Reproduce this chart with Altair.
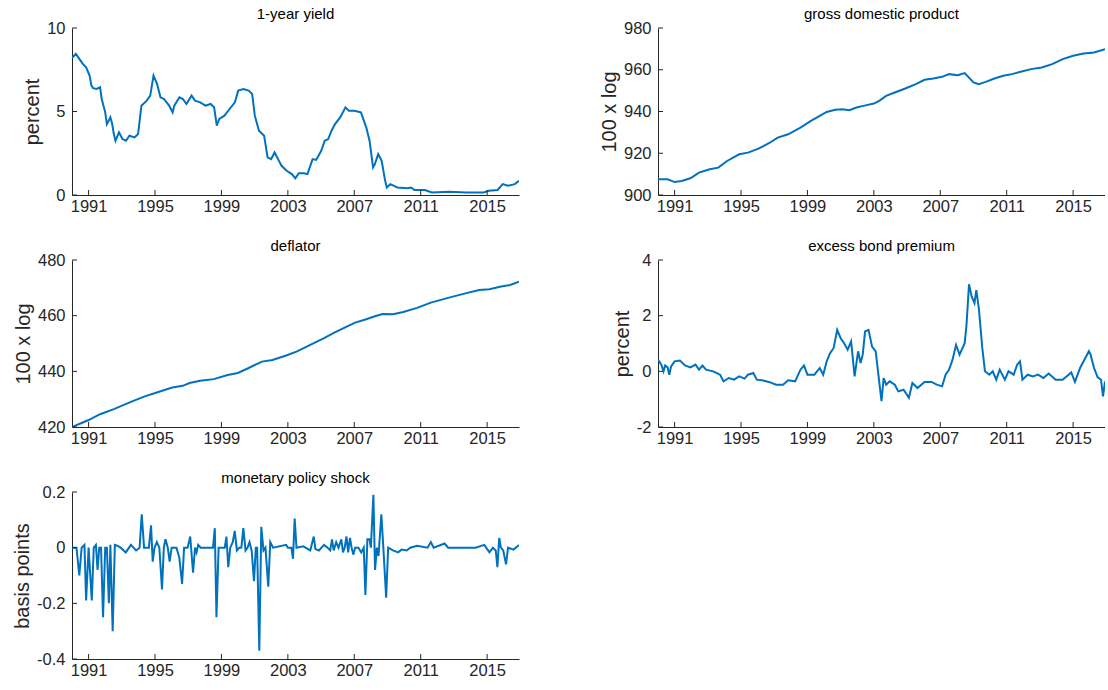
import altair as alt
import pandas as pd

# ---------------- data ----------------
XTICKS = [1991, 1995, 1999, 2003, 2007, 2011, 2015]

YIELD_T = [1990.0, 1990.23, 1990.44, 1990.65, 1990.85, 1991.06, 1991.17, 1991.27, 1991.48, 1991.69,
           1991.79, 1992.0, 1992.1, 1992.21, 1992.31, 1992.42, 1992.52, 1992.62, 1992.83, 1993.04,
           1993.25, 1993.46, 1993.77, 1993.98, 1994.18, 1994.5, 1994.71, 1994.91, 1995.12, 1995.33,
           1995.54, 1995.85, 1996.06, 1996.16, 1996.47, 1996.68, 1996.89, 1997.2, 1997.41, 1997.72,
           1998.04, 1998.35, 1998.56, 1998.72, 1998.87, 1999.18, 1999.49, 1999.81, 2000.01, 2000.33,
           2000.64, 2000.85, 2001.01, 2001.26, 2001.57, 2001.78, 2001.99, 2002.2, 2002.41, 2002.62,
           2002.93, 2003.24, 2003.45, 2003.66, 2003.97, 2004.18, 2004.49, 2004.7, 2005.01, 2005.22,
           2005.43, 2005.63, 2005.84, 2006.15, 2006.47, 2006.67, 2006.99, 2007.4, 2007.72, 2007.92,
           2008.13, 2008.24, 2008.44, 2008.65, 2008.86, 2008.96, 2009.17, 2009.59, 2010.21, 2010.42,
           2010.63, 2011.25, 2011.67, 2012.71, 2013.75, 2014.79, 2015.1, 2015.63, 2015.94, 2016.25,
           2016.67, 2016.92]
YIELD_V = [8.2, 8.45, 8.15, 7.85, 7.65, 7.15, 6.55, 6.4, 6.35, 6.45,
           5.75, 4.95, 4.25, 4.45, 4.65, 4.25, 3.65, 3.25, 3.75, 3.35,
           3.25, 3.55, 3.45, 3.65, 5.35, 5.65, 5.95, 7.15, 6.65, 5.85,
           5.75, 5.35, 4.95, 5.35, 5.85, 5.75, 5.45, 5.95, 5.65, 5.55,
           5.35, 5.45, 5.25, 4.15, 4.55, 4.75, 5.15, 5.55, 6.25, 6.35,
           6.25, 6.05, 4.75, 3.85, 3.55, 2.25, 2.15, 2.55, 2.15, 1.75,
           1.45, 1.25, 1.0, 1.3, 1.3, 1.25, 2.15, 2.1, 2.65, 3.25,
           3.35, 3.85, 4.25, 4.65, 5.25, 5.05, 5.05, 4.95, 4.05, 3.25,
           1.65, 1.85, 2.45, 2.05, 0.85, 0.45, 0.65, 0.45, 0.4, 0.45,
           0.3, 0.3, 0.15, 0.2, 0.15, 0.15, 0.25, 0.3, 0.65, 0.55,
           0.65, 0.85]

GDP_T = [1990.0, 1990.58, 1991.0, 1991.42, 1991.95, 1992.47, 1993.11, 1993.63, 1994.16, 1994.89,
         1995.42, 1996.05, 1996.68, 1997.21, 1997.84, 1998.58, 1999.21, 1999.74, 2000.16, 2000.68,
         2001.11, 2001.53, 2001.95, 2002.37, 2003.0, 2003.32, 2003.74, 2004.26, 2004.89, 2005.53,
         2006.05, 2006.58, 2007.11, 2007.53, 2008.05, 2008.47, 2009.0, 2009.32, 2009.74, 2010.26,
         2010.79, 2011.32, 2011.84, 2012.47, 2013.11, 2013.74, 2014.37, 2015.0, 2015.63, 2016.26,
         2016.92]
GDP_V = [907.5, 907.5, 906.2, 906.7, 908.0, 910.7, 912.3, 913.1, 916.3, 919.5,
         920.3, 922.2, 924.8, 927.5, 929.1, 932.3, 935.5, 937.9, 939.8, 940.8,
         941.1, 940.6, 941.9, 942.7, 943.8, 945.1, 947.5, 949.1, 951.0, 953.1,
         955.2, 955.8, 956.6, 957.9, 957.4, 958.4, 953.9, 953.1, 954.2, 955.8,
         957.1, 957.9, 959.0, 960.3, 961.1, 962.7, 965.1, 966.7, 967.8, 968.3,
         969.9]

DEF_T = [1990.0, 1990.65, 1991.0, 1991.69, 1992.52, 1993.55, 1994.38, 1995.01, 1996.04, 1996.67,
         1997.08, 1997.71, 1998.54, 1999.37, 1999.99, 2000.61, 2001.44, 2002.07, 2002.9, 2003.52,
         2004.35, 2005.18, 2005.8, 2006.42, 2007.05, 2007.67, 2008.29, 2008.71, 2009.33, 2009.95,
         2010.78, 2011.61, 2012.65, 2013.69, 2014.52, 2015.14, 2015.77, 2016.39, 2016.92]
DEF_V = [420.0, 421.6, 422.5, 424.6, 426.4, 429.0, 431.0, 432.2, 434.2, 434.8,
         435.8, 436.6, 437.2, 438.7, 439.4, 441.1, 443.5, 444.1, 445.7, 447.1,
         449.5, 451.9, 453.9, 455.7, 457.5, 458.6, 459.9, 460.6, 460.5, 461.3,
         462.8, 464.7, 466.4, 468.0, 469.2, 469.5, 470.4, 471.0, 472.2]

EBP_T = [1990.0, 1990.2, 1990.33, 1990.43, 1990.58, 1990.68, 1990.79, 1991.0, 1991.32, 1991.63,
         1991.95, 1992.26, 1992.47, 1992.68, 1992.89, 1993.32, 1993.74, 1993.95, 1994.26, 1994.58,
         1994.89, 1995.21, 1995.42, 1995.74, 1995.95, 1996.26, 1996.68, 1997.11, 1997.53, 1997.84,
         1998.26, 1998.58, 1998.79, 1999.0, 1999.42, 1999.74, 1999.95, 2000.16, 2000.37, 2000.58,
         2000.79, 2001.0, 2001.21, 2001.42, 2001.63, 2001.84, 2002.05, 2002.2, 2002.33, 2002.47,
         2002.68, 2002.89, 2003.11, 2003.32, 2003.46, 2003.59, 2003.74, 2003.95, 2004.26, 2004.47,
         2004.79, 2005.11, 2005.32, 2005.63, 2006.05, 2006.47, 2006.79, 2007.11, 2007.32, 2007.53,
         2007.74, 2007.95, 2008.16, 2008.47, 2008.58, 2008.73, 2008.89, 2009.06, 2009.17, 2009.32,
         2009.53, 2009.69, 2009.95, 2010.16, 2010.37, 2010.58, 2010.89, 2011.11, 2011.42, 2011.63,
         2011.8, 2011.95, 2012.26, 2012.58, 2012.89, 2013.21, 2013.53, 2013.95, 2014.37, 2014.89,
         2015.11, 2015.42, 2015.63, 2015.95, 2016.05, 2016.26, 2016.47, 2016.68, 2016.8, 2016.92]
EBP_V = [0.42, 0.24, 0.0, 0.21, 0.14, -0.12, 0.18, 0.36, 0.39, 0.21,
         0.14, 0.24, 0.06, 0.21, 0.06, 0.0, -0.12, -0.36, -0.24, -0.3,
         -0.18, -0.26, -0.12, -0.06, -0.3, -0.32, -0.38, -0.48, -0.48, -0.32,
         -0.36, 0.06, 0.21, -0.12, -0.12, 0.12, -0.12, 0.36, 0.66, 0.84,
         1.49, 1.19, 1.01, 0.78, 1.07, -0.18, 0.72, 0.3, 0.6, 1.43,
         1.49, 0.89, 0.72, -0.36, -1.07, -0.24, -0.48, -0.36, -0.48, -0.72,
         -0.66, -0.95, -0.42, -0.6, -0.38, -0.38, -0.48, -0.54, -0.12, 0.06,
         0.42, 0.95, 0.6, 1.01, 1.67, 3.13, 2.69, 2.45, 2.92, 2.27,
         0.84, 0.0, -0.12, 0.0, -0.3, 0.06, -0.3, 0.0, -0.12, 0.24,
         0.36, -0.3, -0.12, -0.18, -0.12, -0.24, -0.08, -0.3, -0.3, -0.04,
         -0.38, 0.12, 0.36, 0.72, 0.6, 0.12, -0.21, -0.3, -0.9, -0.36]

SHK_T = [1990.0, 1990.27, 1990.44, 1990.58, 1990.75, 1990.85, 1991.0, 1991.19, 1991.31, 1991.44,
         1991.54, 1991.64, 1991.75, 1991.87, 1992.0, 1992.1, 1992.22, 1992.31, 1992.45, 1992.58,
         1992.72, 1992.93, 1993.24, 1993.55, 1993.86, 1994.07, 1994.2, 1994.34, 1994.63, 1994.76,
         1994.86, 1994.97, 1995.11, 1995.26, 1995.42, 1995.53, 1995.63, 1995.77, 1995.88, 1996.0,
         1996.29, 1996.46, 1996.63, 1996.75, 1996.96, 1997.12, 1997.29, 1997.41, 1997.5, 1997.6,
         1997.75, 1998.33, 1998.49, 1998.6, 1998.7, 1998.83, 1999.2, 1999.3, 1999.41, 1999.53,
         1999.68, 1999.8, 1999.93, 2000.07, 2000.2, 2000.32, 2000.45, 2000.57, 2000.69, 2000.82,
         2000.96, 2001.07, 2001.15, 2001.28, 2001.4, 2001.53, 2001.65, 2001.82, 2001.94, 2002.11,
         2002.9, 2003.0, 2003.21, 2003.31, 2003.41, 2003.52, 2003.93, 2004.35, 2004.56, 2004.66,
         2004.87, 2005.18, 2005.39, 2005.55, 2005.66, 2005.76, 2005.91, 2006.05, 2006.22, 2006.32,
         2006.42, 2006.53, 2006.63, 2006.74, 2006.84, 2006.94, 2007.05, 2007.25, 2007.42, 2007.57,
         2007.67, 2007.79, 2007.92, 2008.0, 2008.15, 2008.25, 2008.36, 2008.46, 2008.63, 2008.75,
         2008.92, 2009.04, 2009.33, 2009.64, 2009.85, 2010.16, 2010.37, 2010.78, 2011.41, 2011.61,
         2011.78, 2012.44, 2012.65, 2013.48, 2014.31, 2014.83, 2014.94, 2015.14, 2015.35, 2015.52,
         2015.62, 2015.73, 2015.83, 2015.97, 2016.14, 2016.26, 2016.59, 2016.92]
SHK_V = [0.0, 0.0, -0.10, 0.0, 0.01, -0.19, 0.0, -0.19, 0.0, 0.01,
         -0.08, 0.0, 0.0, -0.25, 0.0, 0.0, -0.20, 0.01, -0.30, 0.01,
         0.007, 0.0, -0.017, 0.01, -0.01, 0.0, 0.12, 0.0, 0.0, 0.08,
         -0.05, 0.0, 0.02, 0.0, -0.15, 0.0, 0.03, 0.0, -0.05, 0.0,
         0.0, -0.035, -0.13, 0.0, 0.0, 0.04, -0.09, 0.0, -0.017, 0.01,
         0.0, 0.0, 0.0, 0.07, -0.25, 0.0, 0.0, 0.04, -0.07, 0.0,
         0.02, 0.06, -0.01, 0.0, 0.0, 0.07, -0.01, 0.0, 0.02, -0.01,
         -0.12, 0.0, 0.0, -0.37, 0.075, -0.01, 0.0, -0.14, 0.02, 0.0,
         0.01, 0.0, 0.0, -0.04, 0.105, 0.0, 0.005, -0.01, 0.04, -0.005,
         -0.01, 0.01, 0.0, -0.01, 0.03, -0.01, 0.02, 0.0, 0.03, -0.017,
         0.0, 0.04, -0.017, 0.035, 0.0, -0.025, 0.0, 0.0, -0.017, 0.0,
         -0.17, 0.03, 0.03, 0.0, 0.19, -0.08, 0.0, -0.03, 0.12, 0.0,
         -0.18, 0.0, -0.01, -0.017, -0.007, -0.01, 0.0, 0.007, 0.0, 0.02,
         0.0, 0.015, 0.0, 0.0, 0.0, 0.01, 0.0, -0.017, 0.0, -0.01,
         -0.07, 0.035, 0.0, -0.01, -0.06, 0.0, -0.007, 0.01]

# ---------------- styling ----------------
FONT = "Liberation Sans"
AXC = "#262626"
LINEC = "#0072BD"
XDOM = [1990.0, 2016.92]
W, H = 447, 167
TICK = 5


def panel(t, v, title, ytitle, ydom, yticks):
    df = pd.DataFrame({"t": t, "v": v})
    xs = alt.Scale(domain=XDOM, nice=False, zero=False)
    ys = alt.Scale(domain=ydom, nice=False, zero=False)
    xax = alt.Axis(values=XTICKS, format="d", title=None, ticks=False, grid=False,
                   labelPadding=3, labelFlush=False, labelOverlap=False)
    yax = alt.Axis(values=yticks, labelExpr="toString(datum.value)", title=ytitle,
                   ticks=False, grid=False, labelPadding=7, titlePadding=4,
                   labelFlush=False, labelOverlap=False)
    line = alt.Chart(df).mark_line(color=LINEC, strokeWidth=2, clip=True).encode(
        x=alt.X("t:Q", scale=xs, axis=xax),
        y=alt.Y("v:Q", scale=ys, axis=yax),
    )
    xt = alt.Chart(pd.DataFrame({"t": XTICKS})).mark_rule(color=AXC, strokeWidth=1).encode(
        x=alt.X("t:Q", scale=xs, axis=xax), y=alt.value(H), y2=alt.value(H - TICK))
    yt = alt.Chart(pd.DataFrame({"v": yticks})).mark_rule(color=AXC, strokeWidth=1).encode(
        y=alt.Y("v:Q", scale=ys, axis=yax), x=alt.value(0), x2=alt.value(TICK))
    return alt.layer(line, xt, yt).properties(
        width=W, height=H,
        title=alt.TitleParams(title, fontSize=15, fontWeight="normal", color="#000000", font=FONT,
                              anchor="middle", frame="group", offset=-2))


p1 = panel(YIELD_T, YIELD_V, "1-year yield", "percent", [0, 10], [0, 5, 10])
p2 = panel(GDP_T, GDP_V, "gross domestic product", "100 x log", [900, 980], [900, 920, 940, 960, 980])
p3 = panel(DEF_T, DEF_V, "deflator", "100 x log", [420, 480], [420, 440, 460, 480])
p4 = panel(EBP_T, EBP_V, "excess bond premium", "percent", [-2, 4], [-2, 0, 2, 4])
p5 = panel(SHK_T, SHK_V, "monetary policy shock", "basis points", [-0.4, 0.2], [-0.4, -0.2, 0, 0.2])

chart = alt.concat(p1, p2, p3, p4, p5, columns=2, spacing={"row": 24, "column": 80}).properties(
    padding={"left": 12, "top": 7, "right": 0, "bottom": 0},
    background="white",
).configure_axis(
    labelFont=FONT, titleFont=FONT, labelFontSize=16.5, titleFontSize=20,
    titleFontWeight="normal", labelColor=AXC, titleColor=AXC,
    domainColor=AXC, domainWidth=1,
).configure_view(stroke=None)

chart.save("out.html", embed_options={"renderer": "svg", "actions": False})
